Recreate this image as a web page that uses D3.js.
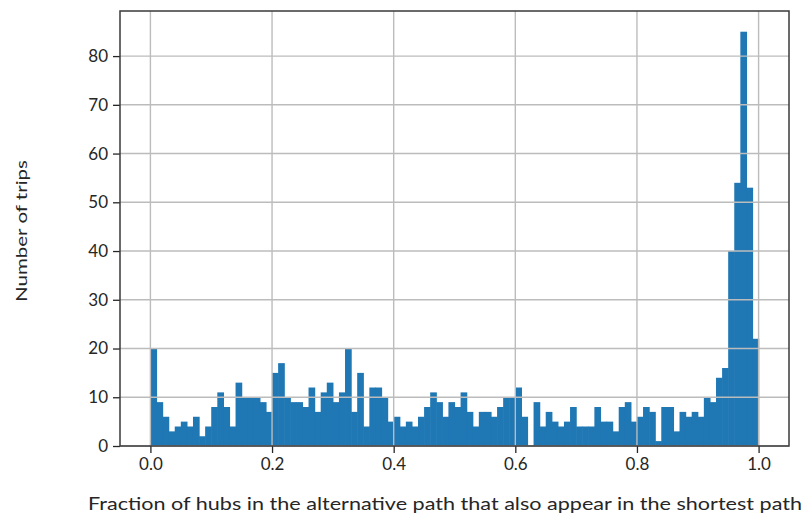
<!DOCTYPE html>
<html>
<head>
<meta charset="utf-8">
<script src="https://cdn.jsdelivr.net/npm/d3@7/dist/d3.min.js"></script>
<style>
  html, body { margin: 0; padding: 0; background: #ffffff; }
  svg { display: block; }
  text { font-family: Lato, "Open Sans", sans-serif; fill: #262626; }
</style>
</head>
<body>
<svg id="chart" width="806" height="518"></svg>
<script>
// Histogram: 100 equal-width bins over [0, 1]
const binLow = 0.0;
const binHigh = 1.0;
const binCount = 100;
const tripCounts = [
  20, 9, 6, 3, 4, 5, 4, 6, 2, 4,
  8, 11, 8, 4, 13, 10, 10, 10, 9, 7,
  15, 17, 10, 9, 9, 8, 12, 7, 11, 13,
  9, 11, 20, 7, 15, 4, 12, 12, 10, 5,
  6, 4, 5, 4, 6, 8, 11, 9, 6, 9,
  8, 11, 7, 4, 7, 7, 6, 8, 10, 10,
  12, 6, 0, 9, 4, 7, 5, 4, 5, 8,
  4, 4, 4, 8, 5, 5, 3, 8, 9, 5,
  6, 8, 7, 1, 8, 8, 3, 7, 6, 7,
  6, 10, 9, 14, 16, 40, 54, 85, 53, 22
];
const xTicks = [0.0, 0.2, 0.4, 0.6, 0.8, 1.0];
const yTicks = [0, 10, 20, 30, 40, 50, 60, 70, 80];
const xTitle = "Fraction of hubs in the alternative path that also appear in the shortest path";
const yTitle = "Number of trips";

const svg = d3.select("#chart");
const plot = { left: 120, right: 789, top: 11, bottom: 446 };

const binWidth = (binHigh - binLow) / binCount;
const bins = tripCounts.map((c, i) => ({
  x0: binLow + i * binWidth,
  x1: binLow + (i + 1) * binWidth,
  count: c
}));

// 5% margins on x, 5% headroom on y
const xPad = (binHigh - binLow) * 0.05;
const x = d3.scaleLinear()
  .domain([binLow - xPad, binHigh + xPad])
  .range([plot.left, plot.right]);
const y = d3.scaleLinear()
  .domain([0, d3.max(tripCounts) * 1.05])
  .range([plot.bottom, plot.top]);

// bars (slight overlap so neighbouring bars leave no seam)
svg.append("g")
  .selectAll("rect")
  .data(bins.filter(b => b.count > 0))
  .join("rect")
  .attr("x", d => x(d.x0))
  .attr("width", d => x(d.x1) - x(d.x0) + 0.6)
  .attr("y", d => y(d.count))
  .attr("height", d => y(0) - y(d.count))
  .attr("fill", "#1f77b4");

// grid on top of bars
const grid = svg.append("g").attr("stroke", "#bcbcbc").attr("stroke-width", 1.4);
grid.selectAll("line.gx").data(xTicks).join("line")
  .attr("class", "gx")
  .attr("x1", d => x(d)).attr("x2", d => x(d))
  .attr("y1", plot.top).attr("y2", plot.bottom);
grid.selectAll("line.gy").data(yTicks).join("line")
  .attr("class", "gy")
  .attr("x1", plot.left).attr("x2", plot.right)
  .attr("y1", d => y(d)).attr("y2", d => y(d));

// axes
const xAxis = d3.axisBottom(x)
  .tickValues(xTicks)
  .tickFormat(d3.format(".1f"))
  .tickSize(7).tickPadding(5).tickSizeOuter(0);
const yAxis = d3.axisLeft(y)
  .tickValues(yTicks)
  .tickFormat(d3.format("d"))
  .tickSize(7).tickPadding(5).tickSizeOuter(0);

const gx = svg.append("g")
  .attr("transform", `translate(0,${plot.bottom})`)
  .call(xAxis);
const gy = svg.append("g")
  .attr("transform", `translate(${plot.left},0)`)
  .call(yAxis);
[gx, gy].forEach(g => {
  g.select(".domain").remove();
  g.selectAll(".tick line").attr("stroke", "#262626").attr("stroke-width", 1.3);
  g.selectAll(".tick text")
    .attr("fill", "#262626")
    .style("font-family", "Lato, 'Open Sans', sans-serif")
    .style("font-size", "17px");
});

// frame
svg.append("rect")
  .attr("x", plot.left).attr("y", plot.top)
  .attr("width", plot.right - plot.left)
  .attr("height", plot.bottom - plot.top)
  .attr("fill", "none")
  .attr("stroke", "#3a3a3a")
  .attr("stroke-width", 1.5);

// axis titles
svg.append("text")
  .attr("x", 445).attr("y", 510)
  .attr("text-anchor", "middle")
  .attr("textLength", 714)
  .attr("lengthAdjust", "spacingAndGlyphs")
  .style("font-size", "18px")
  .text(xTitle);

svg.append("text")
  .attr("transform", "translate(27,231) rotate(-90)")
  .attr("text-anchor", "middle")
  .attr("textLength", 142)
  .attr("lengthAdjust", "spacingAndGlyphs")
  .style("font-size", "16px")
  .text(yTitle);
</script>
</body>
</html>
